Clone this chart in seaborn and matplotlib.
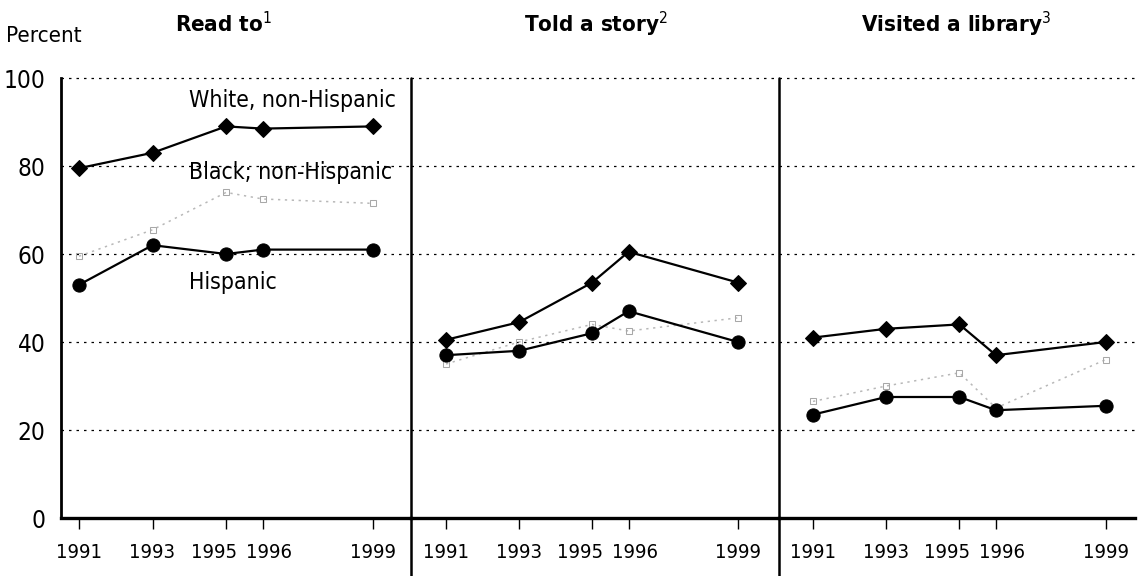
import numpy as np
import pandas as pd
import matplotlib
matplotlib.use("Agg")
import matplotlib.pyplot as plt
from matplotlib.lines import Line2D
from matplotlib.transforms import ScaledTranslation
import seaborn as sns

years = [1991, 1993, 1995, 1996, 1999]

read_white = [79.5, 83, 89, 88.5, 89]
read_black = [59.5, 65.5, 74, 72.5, 71.5]
read_hisp = [53, 62, 60, 61, 61]

story_white = [40.5, 44.5, 53.5, 60.5, 53.5]
story_black = [35, 40, 44, 42.5, 45.5]
story_hisp = [37, 38, 42, 47, 40]

lib_white = [41, 43, 44, 37, 40]
lib_black = [26.5, 30, 33, 25, 36]
lib_hisp = [23.5, 27.5, 27.5, 24.5, 25.5]

panel_titles = ["Read to$^{1}$", "Told a story$^{2}$", "Visited a library$^{3}$"]
groups = ["White, non-Hispanic", "Black; non-Hispanic", "Hispanic"]

panels = [
    (read_white, read_black, read_hisp),
    (story_white, story_black, story_hisp),
    (lib_white, lib_black, lib_hisp),
]

sns.set_style("white")
plt.rcParams["font.family"] = ["DejaVu Sans"]
plt.rcParams["font.stretch"] = "condensed"
plt.rcParams["text.color"] = "black"
plt.rcParams["xtick.color"] = "black"
plt.rcParams["ytick.color"] = "black"

W, H = 1141, 576
fig = plt.figure(figsize=(W / 100, H / 100), dpi=100)

# panel pixel extents and x-limits
extents = [(61, 411, 1990.51, 2000.03), (411, 779, 1990.04, 2000.12), (779, 1135, 1990.07, 1999.8)]
title_x = [223, 596, 956]
y0_px, y100_px = 518, 78

axes = []
for i, (x0, x1, xl, xr) in enumerate(extents):
    ax = fig.add_axes([x0 / W, 1 - y0_px / H, (x1 - x0) / W, (y0_px - y100_px) / H])
    axes.append(ax)
    white, black, hisp = panels[i]
    df = pd.DataFrame({"year": years * 3,
                       "pct": white + black + hisp,
                       "group": [groups[0]] * 5 + [groups[1]] * 5 + [groups[2]] * 5})

    for g in [0, 1, 2]:
        dfg = df[df["group"] == groups[g]]
        if g == 0:
            sns.lineplot(data=dfg, x="year", y="pct", ax=ax, color="black", lw=1.6,
                         marker="D", markersize=8.5, markeredgecolor="black", zorder=4)
        elif g == 1:
            sns.lineplot(data=dfg, x="year", y="pct", ax=ax, color="#b8b8b8", lw=1.1,
                         linestyle=(0, (1.5, 3)), marker="s", markersize=5,
                         markerfacecolor="none", markeredgecolor="#a8a8a8", zorder=3)
        else:
            sns.lineplot(data=dfg, x="year", y="pct", ax=ax, color="black", lw=1.6,
                         marker="o", markersize=9.5, markeredgecolor="black", zorder=4)

    ax.set_xlim(xl, xr)
    ax.set_ylim(0, 100)
    for v in [20, 40, 60, 80, 100]:
        ax.axhline(v, color="black", lw=0.9, linestyle=(0, (2, 4)), zorder=1, clip_on=False)
    ax.set_xticks(years)
    ax.set_xticklabels([str(y) for y in years], fontsize=14.5)
    ax.tick_params(axis="x", bottom=True, length=8, width=1, direction="out", pad=10,
                   colors="black")
    ax.set_xlabel("")
    ax.set_ylabel("")
    for s in ["top", "right", "left"]:
        ax.spines[s].set_visible(False)
    ax.spines["bottom"].set_linewidth(2.4)
    ax.spines["bottom"].set_color("black")
    if i == 0:
        ax.spines["left"].set_visible(True)
        ax.spines["left"].set_linewidth(2)
        ax.spines["left"].set_color("black")
        ax.set_yticks([0, 20, 40, 60, 80, 100])
        ax.set_yticklabels(["0", "20", "40", "60", "80", "100"], fontsize=17.5)
        ax.tick_params(axis="y", length=0, pad=11)
    else:
        ax.set_yticks([])
    ax.set_facecolor("none")
    fig.text(title_x[i] / W, 1 - 24 / H, panel_titles[i],
             ha="center", va="center", fontsize=16, fontweight="bold")

# nudge the crowded 1995 / 1996 labels apart, as in the original
fig.canvas.draw()
for ax in axes:
    labs = ax.get_xticklabels()
    for lab, dx in zip(labs, [0, 0, -12, 6, 0]):
        if dx:
            lab.set_transform(lab.get_transform() + ScaledTranslation(dx / 100, 0, fig.dpi_scale_trans))

# panel dividers extending below the axis
for xp in [411, 779]:
    fig.add_artist(Line2D([xp / W, xp / W], [1 - 78 / H, 0], transform=fig.transFigure,
                          color="black", lw=1.8))

ax0 = axes[0]
ax0.text(1994.0, 95, "White, non-Hispanic", fontsize=16.5, ha="left", va="center")
ax0.text(1994.0, 78.6, "Black; non-Hispanic", fontsize=16.5, ha="left", va="center")
ax0.text(1994.0, 53.6, "Hispanic", fontsize=16.5, ha="left", va="center")

fig.text(6 / W, 1 - 36 / H, "Percent", fontsize=16, ha="left", va="center")

fig.savefig("out.png", dpi=100, facecolor="white")
